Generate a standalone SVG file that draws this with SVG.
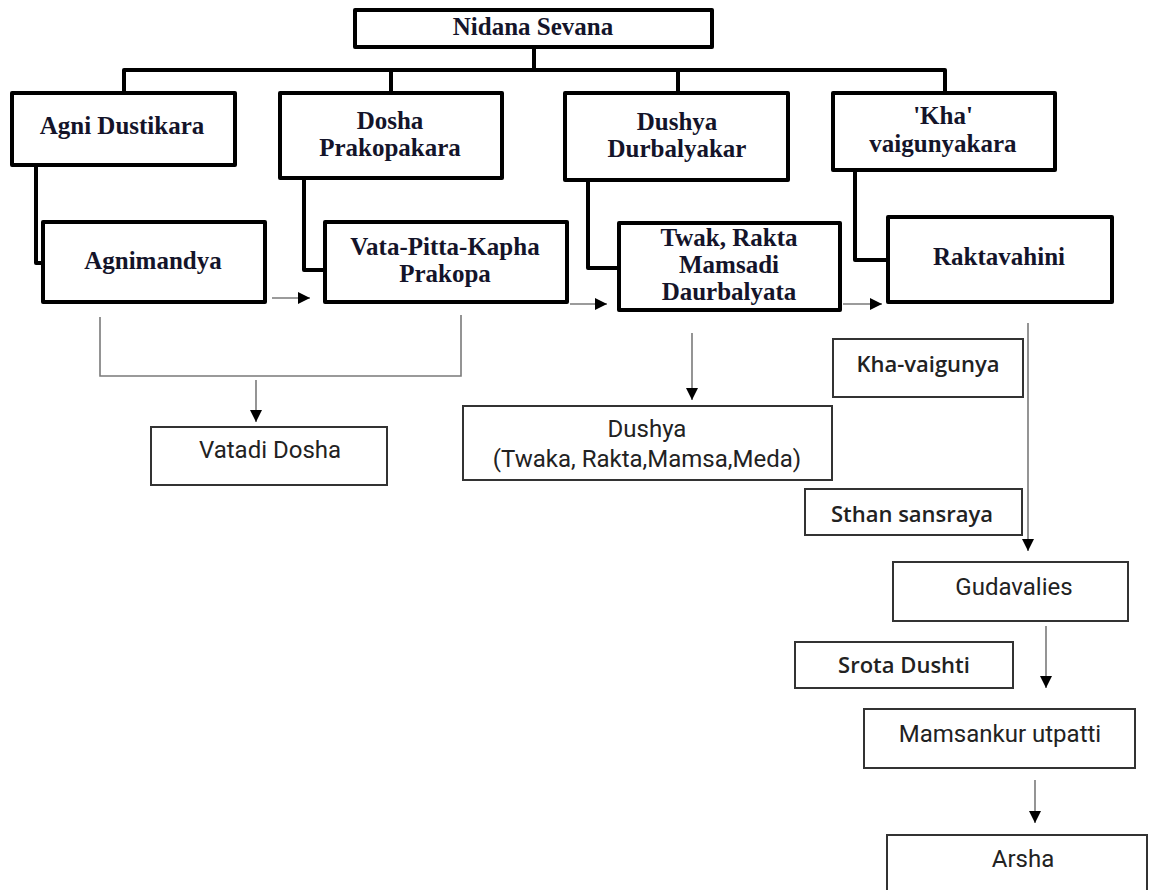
<svg xmlns="http://www.w3.org/2000/svg" width="1150" height="890" viewBox="0 0 1150 890">
<style>
.bx{fill:#fff;stroke:#000;stroke-width:4;stroke-linejoin:round}
.tb{fill:#fff;stroke:#333;stroke-width:2}
.st{font-family:"Liberation Serif","Times New Roman",serif;font-weight:bold;font-size:25px;fill:#14142a;text-anchor:middle}
.sa{font-family:Roboto,"Liberation Sans",sans-serif;font-size:24px;fill:#222;text-anchor:middle}
.sb{font-family:"Open Sans","Liberation Sans",sans-serif;font-weight:600;font-size:22px;fill:#222;text-anchor:middle}
.tree{fill:none;stroke:#000;stroke-width:4;stroke-linejoin:round}
.gl{fill:none;stroke:#7a7a7a;stroke-width:1.6}
.ar{fill:none;stroke:#7a7a7a;stroke-width:1.6;marker-end:url(#ah)}
</style>
<defs>
<marker id="ah" markerUnits="userSpaceOnUse" markerWidth="12" markerHeight="12" viewBox="0 0 12 12" refX="12" refY="6" orient="auto">
<path d="M0,0 L12,6 L0,12 z" fill="#000"/>
</marker>
</defs>
<rect width="1150" height="890" fill="#fff"/>
<g id="connectors">
<path class="tree" d="M534,47 V70 M124,93 V70 H945 V93 M391,70 V93 M678,70 V93"/>
<path class="tree" d="M36,165 V263 H43"/>
<path class="tree" d="M304,178 V270 H325"/>
<path class="tree" d="M588,180 V268 H619"/>
<path class="tree" d="M855,170 V260 H888"/>
<path class="ar" d="M272,298 H310"/>
<path class="ar" d="M570,304 H607"/>
<path class="ar" d="M843,304 H882"/>
<path class="gl" d="M100,317 V376 H461 V315"/>
<path class="ar" d="M256,380 V422"/>
<path class="ar" d="M692,333 V400"/>
<path class="ar" d="M1028,323 V551"/>
<path class="ar" d="M1046,626 V688"/>
<path class="ar" d="M1035,780 V823"/>
</g>
<g id="n-nidana"><rect class="bx" x="355" y="10" width="357" height="37"/><text class="st" x="533" y="35">Nidana Sevana</text></g>
<g id="n-agni"><rect class="bx" x="12" y="93" width="223" height="72"/><text class="st" x="122" y="134">Agni Dustikara</text></g>
<g id="n-dosha"><rect class="bx" x="280" y="93" width="222" height="85"/><text class="st" x="390" y="129">Dosha</text><text class="st" x="390" y="156">Prakopakara</text></g>
<g id="n-dushyadur"><rect class="bx" x="565" y="93" width="223" height="87"/><text class="st" x="677" y="130">Dushya</text><text class="st" x="677" y="157">Durbalyakar</text></g>
<g id="n-kha"><rect class="bx" x="833" y="93" width="222" height="77"/><text class="st" x="943" y="124">'Kha'</text><text class="st" x="943" y="152">vaigunyakara</text></g>
<g id="n-agnimandya"><rect class="bx" x="43" y="222" width="222" height="80"/><text class="st" x="153" y="269">Agnimandya</text></g>
<g id="n-vpk"><rect class="bx" x="325" y="222" width="242" height="80"/><text class="st" x="445" y="255">Vata-Pitta-Kapha</text><text class="st" x="445" y="282">Prakopa</text></g>
<g id="n-twak"><rect class="bx" x="619" y="223" width="221" height="87"/><text class="st" x="729" y="246">Twak, Rakta</text><text class="st" x="729" y="273">Mamsadi</text><text class="st" x="729" y="300">Daurbalyata</text></g>
<g id="n-rakta"><rect class="bx" x="888" y="217" width="224" height="85"/><text class="st" x="999" y="265">Raktavahini</text></g>
<g id="n-vatadi"><rect class="tb" x="151" y="427" width="236" height="58"/><text class="sa" x="270" y="458">Vatadi Dosha</text></g>
<g id="n-dushya"><rect class="tb" x="463" y="406" width="369" height="74"/><text class="sa" x="647" y="437">Dushya</text><text class="sa" x="647" y="467" font-size="23">(Twaka, Rakta,Mamsa,Meda)</text></g>
<g id="n-khav"><rect class="tb" x="833" y="339" width="190" height="58"/><text class="sb" x="928" y="372">Kha-vaigunya</text></g>
<g id="n-sthan"><rect class="tb" x="805" y="489" width="217" height="46"/><text class="sb" x="912" y="522">Sthan sansraya</text></g>
<g id="n-guda"><rect class="tb" x="893" y="562" width="235" height="59"/><text class="sa" x="1014" y="595">Gudavalies</text></g>
<g id="n-srota"><rect class="tb" x="795" y="642" width="218" height="46"/><text class="sb" x="904" y="673">Srota Dushti</text></g>
<g id="n-mamsankur"><rect class="tb" x="864" y="709" width="271" height="59"/><text class="sa" x="1000" y="742">Mamsankur utpatti</text></g>
<g id="n-arsha"><rect class="tb" x="887" y="835" width="260" height="70"/><text class="sa" x="1023" y="867">Arsha</text></g>
</svg>
